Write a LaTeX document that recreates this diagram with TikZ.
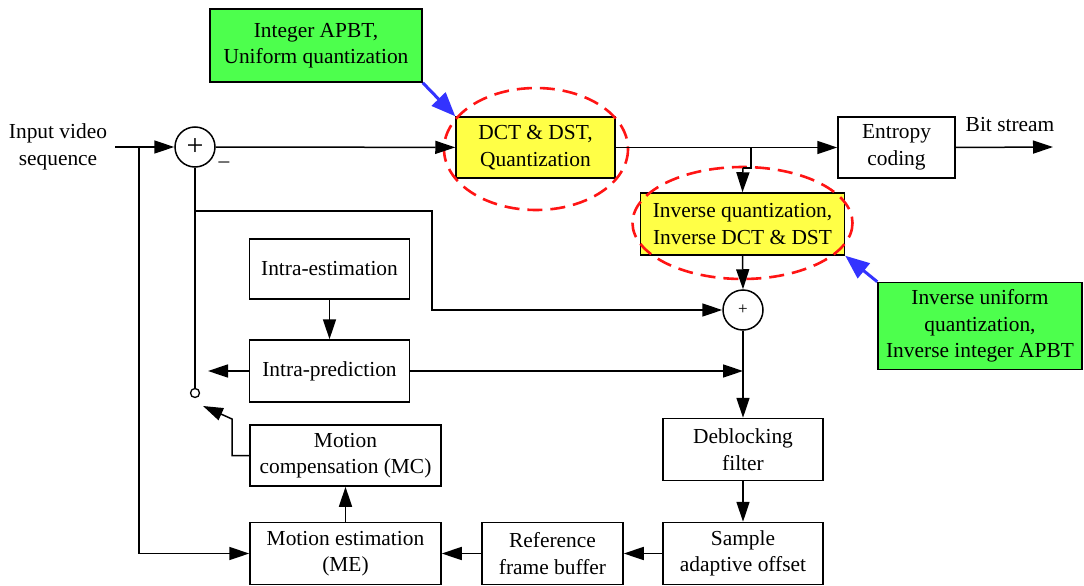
\documentclass[tikz,border=0pt]{standalone}
\usepackage{fontspec}
\setmainfont{Liberation Serif}
\usetikzlibrary{arrows.meta,calc}
\definecolor{boxyellow}{RGB}{255,255,70}
\definecolor{boxgreen}{RGB}{77,255,77}
\definecolor{arrblue}{RGB}{51,51,255}
\definecolor{ellred}{RGB}{255,20,20}
\begin{document}
\begin{tikzpicture}[x=1pt,y=-1pt,
  font=\fontsize{21.4}{26.5}\selectfont,
  blk/.style={draw,line width=1.5pt,rectangle,inner sep=0pt,align=center,minimum width=#1},
  ybox/.style={blk=#1,fill=boxyellow},
  gbox/.style={blk=#1,fill=boxgreen},
  sumc/.style={draw,line width=1.5pt,circle,minimum size=40pt,inner sep=0pt},
  conn/.style={line width=1.5pt,-{Triangle[length=20pt,width=13pt]}},
  plain/.style={line width=1.5pt},
  bluearr/.style={line width=3pt,draw=arrblue,-{Triangle[length=24pt,width=19pt,fill=arrblue]}},
  redell/.style={draw=ellred,line width=2.6pt,dash pattern=on 15pt off 8pt}
]
\useasboundingbox (0,0) rectangle (1084,586);

% boxes
\node[gbox=212pt,minimum height=73pt] (g1) at (316,45.5) {Integer APBT,\\Uniform quantization};
\node[ybox=159pt,minimum height=61pt] (dct) at (535.5,147.5) {DCT \& DST,\\Quantization};
\node[blk=117pt,minimum height=61pt] (ent) at (896.5,147.5) {Entropy\\coding};
\node[ybox=204pt,minimum height=62pt] (inv) at (742.5,224) {Inverse quantization,\\Inverse DCT \& DST};
\node[gbox=204pt,minimum height=87pt] (g2) at (980,326) {Inverse uniform\\quantization,\\Inverse integer APBT};
\node[blk=160pt,minimum height=60pt] (ie) at (329.5,269) {Intra-estimation};
\node[blk=160pt,minimum height=62pt] (ip) at (329.5,371) {Intra-prediction};
\node[blk=191pt,minimum height=61pt] (mc) at (345.5,455.5) {Motion\\compensation (MC)};
\node[blk=191pt,minimum height=62pt] (me) at (345.5,553.5) {Motion estimation\\(ME)};
\node[blk=141pt,minimum height=62pt] (rfb) at (552.5,553.5) {Reference\\frame buffer};
\node[blk=160pt,minimum height=62pt] (dbf) at (743,449.5) {Deblocking\\filter};
\node[blk=160pt,minimum height=62pt] (sao) at (743,553.5) {Sample\\adaptive offset};

% sum circles and switch
\node[sumc] (c1) at (195,147) {\fontsize{30}{30}\selectfont +};
\node[sumc] (c2) at (743,310) {\fontsize{17}{17}\selectfont +};
\node[draw,line width=1.3pt,circle,minimum size=9pt,inner sep=0pt] (sw) at (195,393) {};

% text labels
\node[align=center] (inp) at (58,147) {Input video\\sequence};
\node (bst) at (1010,125) {Bit stream};
\node (minus) at (224,165) {\textendash};

% ellipses
\draw[redell] (536,149) ellipse [x radius=92,y radius=61];
\draw[redell] (742.5,223) ellipse [x radius=110,y radius=56];

% coordinates
\coordinate (inS) at (115,147);
\coordinate (br1) at (139,147);
\coordinate (bsE) at (1053,147);
\coordinate (jA) at (751,147);
\coordinate (jB) at (751,168);
\coordinate (jC) at (743,168);
\coordinate (fb) at (195,211);
\coordinate (fbR) at (432,211);
\coordinate (fbD) at (432,310);
\coordinate (ipL) at (208,371);
\coordinate (ipR) at (743,371);
\coordinate (mcA) at (232,455.5);
\coordinate (mcB) at (232,419);
\coordinate (mcC) at (203,406);

% connectors
\draw[conn] (inS) -- (c1);
\draw[conn] (br1) |- (me.west);
\draw[conn] (c1) -- (dct);
\draw[conn] (dct.east) -- (ent.west);
\draw[conn] (ent.east) -- (bsE);
\draw[plain] (jA) -- (jB) -- (jC);
\draw[conn] (jC) -- (inv.north);
\draw[conn] (inv.south) -- (c2.north);
\draw[plain] (c1.south) -- (sw.north);
\draw[conn] (fb) -- (fbR) -- (fbD) -- (c2.west);
\draw[conn] (ie.south) -- (ip.north);
\draw[conn] (ip.west) -- (ipL);
\draw[conn] (ip.east) -- (ipR);
\draw[conn] (c2.south) -- (dbf.north);
\draw[conn] (dbf.south) -- (sao.north);
\draw[conn] (sao.west) -- (rfb.east);
\draw[conn] (rfb.west) -- (me.east);
\draw[conn] (me.north) -- (mc.south);
\draw[conn] (mc.west) -- (mcA) -- (mcB) -- (mcC);

% blue arrows
\draw[bluearr] (g1.south east) -- (dct.north west);
\draw[bluearr] (g2.north west) -- (inv.south east);
\end{tikzpicture}
\end{document}
